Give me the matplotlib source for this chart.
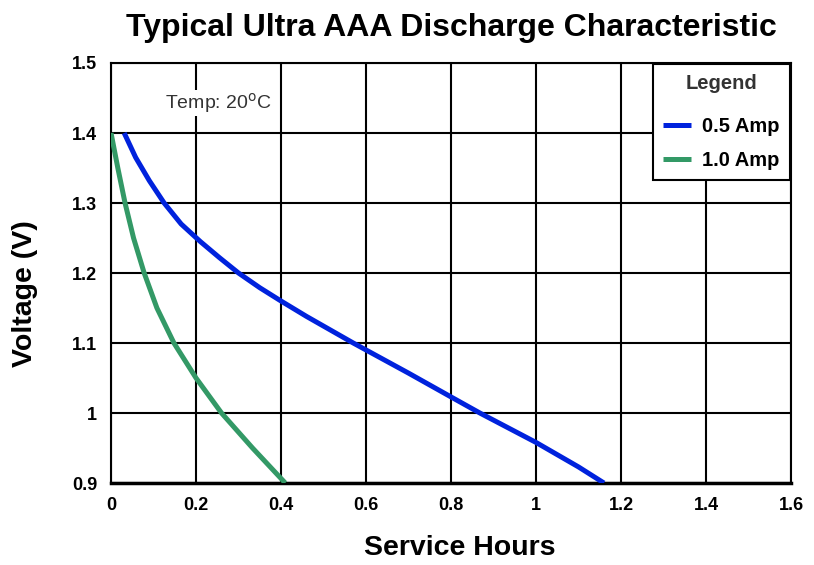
import matplotlib
matplotlib.use("Agg")
import matplotlib.pyplot as plt

# discharge curves (hours, volts)
hours_05 = [0.031, 0.058, 0.09, 0.125, 0.165, 0.21, 0.255, 0.30, 0.35, 0.40, 0.46,
            0.57, 0.70, 0.80, 0.868, 1.0, 1.1, 1.16]
volts_05 = [1.40, 1.365, 1.332, 1.30, 1.27, 1.245, 1.222, 1.20, 1.179, 1.16, 1.138,
            1.10, 1.057, 1.023, 1.00, 0.958, 0.923, 0.90]

hours_10 = [0.0, 0.016, 0.033, 0.053, 0.078, 0.108, 0.148, 0.2, 0.26, 0.333, 0.41]
volts_10 = [1.40, 1.35, 1.30, 1.25, 1.20, 1.15, 1.10, 1.05, 1.00, 0.95, 0.90]

x_ticks = [0, 0.2, 0.4, 0.6, 0.8, 1.0, 1.2, 1.4, 1.6]
x_labels = ["0", "0.2", "0.4", "0.6", "0.8", "1", "1.2", "1.4", "1.6"]
y_ticks = [0.9, 1.0, 1.1, 1.2, 1.3, 1.4, 1.5]
y_labels = ["0.9", "1", "1.1", "1.2", "1.3", "1.4", "1.5"]

plt.rcParams['font.family'] = ['Liberation Sans', 'DejaVu Sans']

fig = plt.figure(figsize=(8.14, 5.65), dpi=100)
ax = fig.add_axes([0.1364, 0.1451, 0.8353, 0.7434])

ax.plot(hours_05, volts_05, color='#0022DD', lw=3.6, label='0.5 Amp',
        solid_joinstyle='round', solid_capstyle='butt', zorder=3)
ax.plot(hours_10, volts_10, color='#339966', lw=3.6, label='1.0 Amp',
        solid_joinstyle='round', solid_capstyle='butt', zorder=3)

ax.set_xlim(0, 1.6)
ax.set_ylim(0.9, 1.5)
ax.set_xticks(x_ticks)
ax.set_xticklabels(x_labels)
ax.set_yticks(y_ticks)
ax.set_yticklabels(y_labels)
ax.tick_params(length=0, labelsize=13, pad=10)
for lab in ax.get_xticklabels() + ax.get_yticklabels():
    lab.set_fontweight('bold')

ax.grid(True, color='black', lw=1.5)
ax.set_axisbelow(True)
for side in ['top', 'right', 'left']:
    ax.spines[side].set_linewidth(1.5)
ax.spines['bottom'].set_linewidth(2.5)

fig.text(451 / 814, 1 - 28 / 565, 'Typical Ultra AAA Discharge Characteristic',
         fontsize=23, fontweight='bold', ha='center', va='center')
ax.set_xlabel('Service Hours', fontsize=20.5, fontweight='bold', va='center')
ax.xaxis.set_label_coords(0.513, -0.155)
ax.set_ylabel('Voltage (V)', fontsize=20.5, fontweight='bold', va='center')
ax.yaxis.set_label_coords(-0.127, 0.45)

ax.text(0.127, 1.443, r'Temp: 20$^{\mathrm{o}}$C', fontsize=14, color='#333333',
        ha='left', va='center', zorder=4,
        bbox=dict(facecolor='white', edgecolor='none', pad=1))

leg = ax.legend(title='Legend', loc='upper right', fancybox=False, framealpha=1,
                edgecolor='black', handlelength=1.4, handletextpad=0.55,
                prop={'weight': 'bold', 'size': 14.5},
                title_fontproperties={'weight': 'bold', 'size': 14.5},
                borderpad=0.5, labelspacing=0.75, borderaxespad=0.05)
leg.get_frame().set_linewidth(1.5)
leg.get_title().set_color('#333333')
leg._legend_box.sep = 17

fig.savefig('out.png', dpi=100, facecolor='white')
